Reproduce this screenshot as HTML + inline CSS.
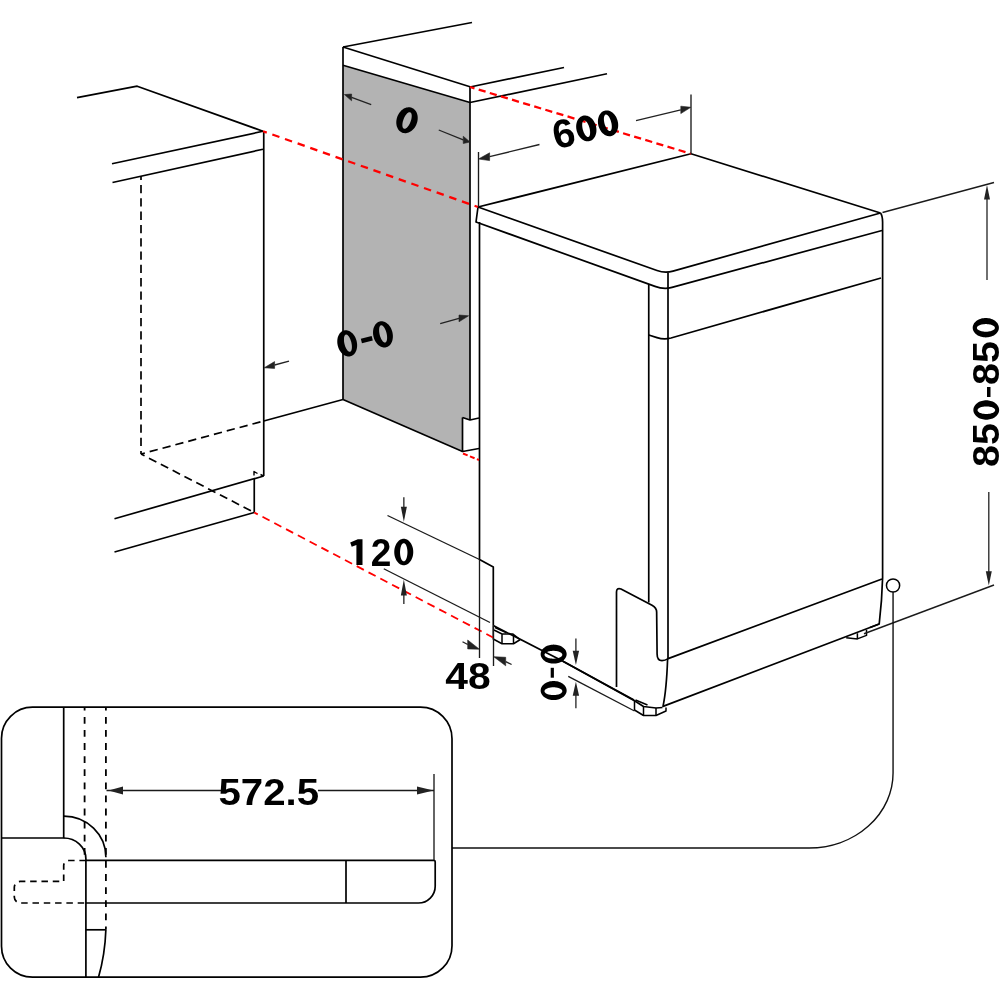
<!DOCTYPE html>
<html><head><meta charset="utf-8"><style>
html,body{margin:0;padding:0;background:#fff;overflow:hidden;}
svg{display:block;will-change:transform;}
</style></head><body>
<svg width="1000" height="1000" viewBox="0 0 1000 1000" stroke-linecap="butt" stroke-linejoin="round">
<path d="M77,97.6 L137.2,86.2 L263,131.25" stroke="#000" stroke-width="1.7" fill="none" />
<path d="M112,163.75 L263,131.25" stroke="#000" stroke-width="1.7" fill="none" />
<path d="M112.5,182.5 L263,149.25" stroke="#000" stroke-width="1.7" fill="none" />
<path d="M263.75,131 V476" stroke="#000" stroke-width="1.7" fill="none" />
<path d="M263.75,421 L343,399.5" stroke="#000" stroke-width="1.7" fill="none" />
<path d="M263.75,476 L114.5,518.75" stroke="#000" stroke-width="1.7" fill="none" />
<path d="M254.25,478.8 V512.5" stroke="#000" stroke-width="1.7" fill="none" />
<path d="M254.25,512.5 L114.5,552" stroke="#000" stroke-width="1.7" fill="none" />
<path d="M254,475.5 V471.5 L257.5,473.5 M260.5,474.5 L263.5,476" stroke="#000" stroke-width="1.4" fill="none" />
<path d="M141,176 V454" stroke="#000" stroke-width="1.7" fill="none" stroke-dasharray="8.3 5" stroke-dashoffset="4.3"/>
<path d="M141,454 L263.75,421" stroke="#000" stroke-width="1.7" fill="none" stroke-dasharray="8.3 5" stroke-dashoffset="4.3"/>
<path d="M141,454 L254.25,512.5" stroke="#000" stroke-width="1.7" fill="none" stroke-dasharray="8.3 5" stroke-dashoffset="4.3"/>
<path d="M343,65.2 L470,102.5 L470,420 L462.5,417.5 L462.5,451.5 L343,399.5 Z" fill="#b3b3b3"/>
<path d="M343,47 L472,22.5" stroke="#000" stroke-width="1.7" fill="none" />
<path d="M343,47 V399.5" stroke="#000" stroke-width="1.7" fill="none" />
<path d="M343,47 L470,86.75" stroke="#000" stroke-width="1.7" fill="none" />
<path d="M343,65.2 L470,102.5" stroke="#000" stroke-width="1.7" fill="none" />
<path d="M470,86.75 V420" stroke="#000" stroke-width="1.7" fill="none" />
<path d="M470,87 L564,67.5" stroke="#000" stroke-width="1.7" fill="none" />
<path d="M470,102.5 L607,73.75" stroke="#000" stroke-width="1.7" fill="none" />
<path d="M462.5,417.5 L470,420 L479,418" stroke="#000" stroke-width="1.7" fill="none" />
<path d="M462.5,417.5 V451.5 L479,448.5" stroke="#000" stroke-width="1.7" fill="none" />
<path d="M343,399.5 L462.5,451.5" stroke="#000" stroke-width="1.7" fill="none" />
<path d="M478,207 L691,153.75 L880.5,213" stroke="#000" stroke-width="1.7" fill="none" />
<path d="M478,207 L657,270.5 Q665.1,273.6 673,271.1 L880.5,213" stroke="#000" stroke-width="1.7" fill="none" />
<path d="M478,207 L476,222 L655,286.4 Q663.9,289.8 672,287.4 L882,230.5" stroke="#000" stroke-width="1.7" fill="none" />
<path d="M880.5,213 Q882.6,216 882.6,222 V578 Q882,600 879.2,624 L870,627.5" stroke="#000" stroke-width="1.7" fill="none" />
<path d="M479.5,222 V559.5 L493.3,567 V625.5" stroke="#000" stroke-width="1.7" fill="none" />
<path d="M648.75,284 V602.5" stroke="#000" stroke-width="1.7" fill="none" />
<path d="M668,272.5 V659" stroke="#000" stroke-width="1.7" fill="none" />
<path d="M648.75,335 L657,337.6 Q664,339.8 671,338.0 L881,278" stroke="#000" stroke-width="1.7" fill="none" />
<path d="M616.5,687 V592 Q616.5,587.5 621,589 L652,605.2 Q656.65,607.8 656.65,612 L657.1,654 Q657.1,660.6 662,660.6 Q665,660.6 668.1,658.6 L882,579" stroke="#000" stroke-width="1.7" fill="none" />
<path d="M667.6,659 Q666.5,690 663,706.4 L879.2,624" stroke="#000" stroke-width="1.7" fill="none" />
<path d="M562.5,661 L634,700" stroke="#000" stroke-width="1.7" fill="none" />
<path d="M562.5,661 L634.5,700.75 L643.5,706.5 L656,708 L662.5,707.5" stroke="#000" stroke-width="1.7" fill="none" />
<path d="M634.5,700.75 V710 L643.5,715.5 H656 L666,711 V707.5" stroke="#000" stroke-width="1.5" fill="none" />
<path d="M643.5,706.5 V715.5 M656,708 V715.5 M635.5,700 L647.5,705" stroke="#000" stroke-width="1.5" fill="none" />
<path d="M493.25,625.5 V639 L502,643.75 H513.5 L520,639.75" stroke="#000" stroke-width="1.5" fill="none" />
<path d="M494,630 L502,634 H513 L520,639.5 M502,634 V643.75 M513.5,634.5 V643.75 M495,627.5 L506,632.5" stroke="#000" stroke-width="1.5" fill="none" />
<path d="M493.25,625.5 L562.5,661" stroke="#000" stroke-width="1.7" fill="none" />
<path d="M846.2,637.8 L857.4,638.9 L866.5,635.4 V629.8 M857.4,633.3 V638.9" stroke="#000" stroke-width="1.5" fill="none" />
<path d="M263,131.25 L478,207" stroke="#ff0000" stroke-width="2.3" fill="none" stroke-dasharray="7.5 5.9" stroke-dashoffset="3.5"/>
<path d="M470,87 L691,153.75" stroke="#ff0000" stroke-width="2.3" fill="none" stroke-dasharray="7.2 4.4" stroke-dashoffset="2.5"/>
<path d="M254.25,512.5 L493,637.5" stroke="#ff0000" stroke-width="1.8" fill="none" stroke-dasharray="8 5.3" stroke-dashoffset="4"/>
<path d="M463,453.5 L479,460" stroke="#ff0000" stroke-width="2.0" fill="none" stroke-dasharray="5 2.5"/>
<path d="M478.5,152 V207" stroke="#1a1a1a" stroke-width="1.35" fill="none" />
<path d="M691,94.5 V153.75" stroke="#1a1a1a" stroke-width="1.35" fill="none" />
<path d="M371.20,104.60 L351.60,97.40" stroke="#222" stroke-width="1.3" fill="none"/>
<path d="M344.40,94.60 L351.60,94.00 L351.60,100.80 Z" fill="#222" stroke="#222" stroke-width="0.6" stroke-linejoin="miter"/>
<path d="M438.75,130.00 L463.25,139.88" stroke="#222" stroke-width="1.3" fill="none"/>
<path d="M470.00,142.00 L463.25,136.25 L463.25,143.50 Z" fill="#222" stroke="#222" stroke-width="0.6" stroke-linejoin="miter"/>
<path d="M539.50,144.50 L489.60,156.70" stroke="#222" stroke-width="1.3" fill="none"/>
<path d="M478.50,159.00 L489.60,152.80 L489.60,160.60 Z" fill="#222" stroke="#222" stroke-width="0.6" stroke-linejoin="miter"/>
<path d="M636.00,120.60 L680.80,109.90" stroke="#222" stroke-width="1.3" fill="none"/>
<path d="M690.90,107.25 L680.80,106.20 L680.80,113.60 Z" fill="#222" stroke="#222" stroke-width="0.6" stroke-linejoin="miter"/>
<path d="M289.00,361.20 L274.60,365.00" stroke="#222" stroke-width="1.3" fill="none"/>
<path d="M264.20,367.80 L274.60,361.60 L274.60,368.40 Z" fill="#222" stroke="#222" stroke-width="0.6" stroke-linejoin="miter"/>
<path d="M440.20,323.60 L459.00,318.40" stroke="#222" stroke-width="1.3" fill="none"/>
<path d="M468.60,315.80 L459.00,315.00 L459.00,321.80 Z" fill="#222" stroke="#222" stroke-width="0.6" stroke-linejoin="miter"/>
<path d="M387.5,515.5 L479.5,559.5" stroke="#1a1a1a" stroke-width="1.35" fill="none" />
<path d="M383.75,568.75 L490,622.5" stroke="#1a1a1a" stroke-width="1.35" fill="none" />
<path d="M403.85,497.20 L403.85,508.80" stroke="#222" stroke-width="1.3" fill="none"/>
<path d="M403.85,521.80 L400.85,506.80 L406.85,506.80 Z" fill="#222"/>
<path d="M403.85,604.00 L403.85,593.40" stroke="#222" stroke-width="1.3" fill="none"/>
<path d="M403.85,579.40 L406.85,595.40 L400.85,595.40 Z" fill="#222"/>
<path d="M479.5,560 V658" stroke="#1a1a1a" stroke-width="1.35" fill="none" />
<path d="M493.5,625 V666" stroke="#1a1a1a" stroke-width="1.35" fill="none" />
<path d="M462.50,641.70 L467.70,644.45" stroke="#222" stroke-width="1.3" fill="none"/>
<path d="M479.40,649.20 L467.70,640.00 L467.70,648.90 Z" fill="#222" stroke="#222" stroke-width="0.6" stroke-linejoin="miter"/>
<path d="M511.60,664.50 L505.70,661.55" stroke="#222" stroke-width="1.3" fill="none"/>
<path d="M493.70,656.70 L505.70,657.30 L505.70,665.80 Z" fill="#222" stroke="#222" stroke-width="0.6" stroke-linejoin="miter"/>
<path d="M568.25,676.35 L634.5,711" stroke="#1a1a1a" stroke-width="1.35" fill="none" />
<path d="M575.90,638.50 L575.90,652.70" stroke="#222" stroke-width="1.3" fill="none"/>
<path d="M575.90,665.10 L572.70,650.70 L579.10,650.70 Z" fill="#222"/>
<path d="M575.90,708.30 L575.90,693.75" stroke="#222" stroke-width="1.3" fill="none"/>
<path d="M575.90,681.75 L579.10,695.75 L572.70,695.75 Z" fill="#222"/>
<path d="M882.5,212.5 L994,182.5" stroke="#1a1a1a" stroke-width="1.35" fill="none" />
<path d="M864,633.75 L994,585" stroke="#1a1a1a" stroke-width="1.35" fill="none" />
<path d="M987.00,280.00 L987.00,197.40" stroke="#222" stroke-width="1.3" fill="none"/>
<path d="M987.00,185.00 L990.00,199.40 L984.00,199.40 Z" fill="#222"/>
<path d="M988.80,492.00 L988.80,573.20" stroke="#222" stroke-width="1.3" fill="none"/>
<path d="M988.80,585.60 L985.80,571.20 L991.80,571.20 Z" fill="#222"/>
<circle cx="893.06" cy="585.5" r="6.6" stroke="#000" stroke-width="1.5" fill="#fff"/>
<path d="M893.06,592.1 V773 A84,75 0 0 1 809,848 H452" stroke="#111" stroke-width="1.4" fill="none" />
<path d="M32.5,707.2 H420.5 A31.5,31.5 0 0 1 452,738.7 V945.7 A31.5,31.5 0 0 1 420.5,977.2 H32.5 A31,31 0 0 1 1.5,946.2 V738.2 A31,31 0 0 1 32.5,707.2 Z" stroke="#000" stroke-width="1.7" fill="none" />
<path d="M63.7,707.2 V838 H1.5" stroke="#000" stroke-width="1.7" fill="none" />
<path d="M63.7,838 A22.2,21 0 0 1 85.9,859 V977.2" stroke="#000" stroke-width="1.7" fill="none" />
<path d="M63.7,816.2 A42.2,41 0 0 1 105.9,857.2" stroke="#000" stroke-width="1.7" fill="none" />
<path d="M84.6,707.2 V859" stroke="#000" stroke-width="1.8" fill="none" stroke-dasharray="6.8 6.3" stroke-dashoffset="3.4"/>
<path d="M105.9,707.2 V929.3" stroke="#000" stroke-width="1.8" fill="none" stroke-dasharray="6.8 6.3" stroke-dashoffset="3.4"/>
<path d="M85.9,860.3 H433.7 Q435.2,860.3 435.2,861.8 V886.2 A16.8,16.8 0 0 1 418.4,903 H85.9" stroke="#000" stroke-width="1.7" fill="none" />
<path d="M346,860.3 V903" stroke="#000" stroke-width="1.7" fill="none" />
<path d="M85.9,860.5 H68.7 A5,5 0 0 0 63.7,865.5 V881.4 H20.3 A6,6 0 0 0 14.3,887.4 V897 A6,6 0 0 0 20.3,903 H85.9" stroke="#000" stroke-width="1.7" fill="none" stroke-dasharray="6.5 4.8"/>
<path d="M85.9,929.8 H105.9" stroke="#000" stroke-width="1.7" fill="none" />
<path d="M105.9,929.3 Q105,955 98.5,977.2" stroke="#000" stroke-width="1.7" fill="none" />
<path d="M434,774 V860" stroke="#1a1a1a" stroke-width="1.35" fill="none" />
<path d="M106.5,790.5 H222 M318,790.5 H434" stroke="#1a1a1a" stroke-width="1.35" fill="none" />
<path d="M108.50,790.50 L123.00,786.50 L123.00,794.50 Z" fill="#222"/>
<path d="M433.50,790.50 L417.00,794.50 L417.00,786.50 Z" fill="#222"/>
<path fill-rule="evenodd" fill="#000" d="M416.63,123.86 L416.18,124.93 L415.66,125.96 L415.08,126.95 L414.43,127.89 L413.73,128.77 L412.98,129.58 L412.18,130.33 L411.34,130.99 L410.47,131.58 L409.57,132.08 L408.65,132.48 L407.72,132.80 L406.79,133.01 L405.86,133.13 L404.93,133.16 L404.02,133.08 L403.13,132.90 L402.28,132.63 L401.46,132.27 L400.68,131.81 L399.95,131.26 L399.27,130.63 L398.65,129.92 L398.10,129.14 L397.61,128.29 L397.19,127.37 L396.85,126.41 L396.59,125.39 L396.40,124.34 L396.30,123.25 L396.28,122.14 L396.34,121.02 L396.48,119.88 L396.70,118.76 L397.00,117.64 L397.37,116.54 L397.82,115.47 L398.34,114.44 L398.92,113.45 L399.57,112.51 L400.27,111.63 L401.02,110.82 L401.82,110.07 L402.66,109.41 L403.53,108.82 L404.43,108.32 L405.35,107.92 L406.28,107.60 L407.21,107.39 L408.14,107.27 L409.07,107.24 L409.98,107.32 L410.87,107.50 L411.72,107.77 L412.54,108.13 L413.32,108.59 L414.05,109.14 L414.73,109.77 L415.35,110.48 L415.90,111.26 L416.39,112.11 L416.81,113.03 L417.15,113.99 L417.41,115.01 L417.60,116.06 L417.70,117.15 L417.72,118.26 L417.66,119.38 L417.52,120.52 L417.30,121.64 L417.00,122.76 Z M410.51,121.81 L410.22,122.53 L409.91,123.22 L409.58,123.90 L409.23,124.55 L408.86,125.17 L408.48,125.75 L408.09,126.29 L407.69,126.79 L407.29,127.25 L406.88,127.65 L406.47,127.99 L406.07,128.28 L405.68,128.51 L405.30,128.68 L404.93,128.79 L404.57,128.83 L404.24,128.81 L403.93,128.73 L403.64,128.58 L403.37,128.37 L403.14,128.11 L402.93,127.78 L402.76,127.40 L402.61,126.97 L402.51,126.49 L402.43,125.96 L402.39,125.39 L402.39,124.78 L402.42,124.14 L402.49,123.48 L402.59,122.79 L402.73,122.08 L402.90,121.36 L403.10,120.63 L403.33,119.91 L403.59,119.19 L403.88,118.47 L404.19,117.78 L404.52,117.10 L404.87,116.45 L405.24,115.83 L405.62,115.25 L406.01,114.71 L406.41,114.21 L406.81,113.75 L407.22,113.35 L407.63,113.01 L408.03,112.72 L408.42,112.49 L408.80,112.32 L409.17,112.21 L409.53,112.17 L409.86,112.19 L410.17,112.27 L410.46,112.42 L410.73,112.63 L410.96,112.89 L411.17,113.22 L411.34,113.60 L411.49,114.03 L411.59,114.51 L411.67,115.04 L411.71,115.61 L411.71,116.22 L411.68,116.86 L411.61,117.52 L411.51,118.21 L411.37,118.92 L411.20,119.64 L411.00,120.37 L410.77,121.09 Z"/>
<path fill-rule="evenodd" fill="#000" d="M356.62,341.10 L356.86,342.24 L357.03,343.38 L357.12,344.53 L357.13,345.66 L357.07,346.78 L356.94,347.87 L356.73,348.93 L356.44,349.95 L356.09,350.91 L355.67,351.82 L355.19,352.67 L354.64,353.44 L354.04,354.14 L353.38,354.76 L352.68,355.29 L351.94,355.73 L351.16,356.07 L350.35,356.32 L349.52,356.47 L348.67,356.52 L347.80,356.48 L346.94,356.33 L346.07,356.08 L345.22,355.74 L344.37,355.30 L343.56,354.78 L342.76,354.16 L342.01,353.47 L341.29,352.69 L340.61,351.85 L339.99,350.94 L339.42,349.98 L338.91,348.96 L338.47,347.91 L338.09,346.81 L337.78,345.70 L337.54,344.56 L337.37,343.42 L337.28,342.27 L337.27,341.14 L337.33,340.02 L337.46,338.93 L337.67,337.87 L337.96,336.85 L338.31,335.89 L338.73,334.98 L339.21,334.13 L339.76,333.36 L340.36,332.66 L341.02,332.04 L341.72,331.51 L342.46,331.07 L343.24,330.73 L344.05,330.48 L344.88,330.33 L345.73,330.28 L346.60,330.32 L347.46,330.47 L348.33,330.72 L349.18,331.06 L350.03,331.50 L350.84,332.02 L351.64,332.64 L352.39,333.33 L353.11,334.11 L353.79,334.95 L354.41,335.86 L354.98,336.82 L355.49,337.84 L355.93,338.89 L356.31,339.99 Z M351.30,342.37 L351.47,343.12 L351.61,343.88 L351.73,344.62 L351.81,345.36 L351.87,346.08 L351.89,346.78 L351.89,347.45 L351.85,348.09 L351.79,348.69 L351.69,349.25 L351.57,349.77 L351.42,350.23 L351.24,350.64 L351.03,351.00 L350.80,351.29 L350.55,351.52 L350.28,351.69 L350.00,351.80 L349.69,351.84 L349.37,351.81 L349.04,351.72 L348.71,351.56 L348.36,351.34 L348.01,351.06 L347.67,350.72 L347.32,350.32 L346.98,349.87 L346.64,349.36 L346.32,348.81 L346.00,348.22 L345.70,347.59 L345.42,346.92 L345.16,346.23 L344.92,345.51 L344.70,344.78 L344.50,344.03 L344.33,343.28 L344.19,342.52 L344.07,341.78 L343.99,341.04 L343.93,340.32 L343.91,339.62 L343.91,338.95 L343.95,338.31 L344.01,337.71 L344.11,337.15 L344.23,336.63 L344.38,336.17 L344.56,335.76 L344.77,335.40 L345.00,335.11 L345.25,334.88 L345.52,334.71 L345.80,334.60 L346.11,334.56 L346.43,334.59 L346.76,334.68 L347.09,334.84 L347.44,335.06 L347.79,335.34 L348.13,335.68 L348.48,336.08 L348.82,336.53 L349.16,337.04 L349.48,337.59 L349.80,338.18 L350.10,338.81 L350.38,339.48 L350.64,340.17 L350.88,340.89 L351.10,341.62 Z"/>
<path fill-rule="evenodd" fill="#000" d="M392.37,332.10 L392.61,333.24 L392.78,334.38 L392.87,335.53 L392.88,336.66 L392.82,337.78 L392.69,338.87 L392.48,339.93 L392.19,340.95 L391.84,341.91 L391.42,342.82 L390.94,343.67 L390.39,344.44 L389.79,345.14 L389.13,345.76 L388.43,346.29 L387.69,346.73 L386.91,347.07 L386.10,347.32 L385.27,347.47 L384.42,347.52 L383.55,347.48 L382.69,347.33 L381.82,347.08 L380.97,346.74 L380.12,346.30 L379.31,345.78 L378.51,345.16 L377.76,344.47 L377.04,343.69 L376.36,342.85 L375.74,341.94 L375.17,340.98 L374.66,339.96 L374.22,338.91 L373.84,337.81 L373.53,336.70 L373.29,335.56 L373.12,334.42 L373.03,333.27 L373.02,332.14 L373.08,331.02 L373.21,329.93 L373.42,328.87 L373.71,327.85 L374.06,326.89 L374.48,325.98 L374.96,325.13 L375.51,324.36 L376.11,323.66 L376.77,323.04 L377.47,322.51 L378.21,322.07 L378.99,321.73 L379.80,321.48 L380.63,321.33 L381.48,321.28 L382.35,321.32 L383.21,321.47 L384.08,321.72 L384.93,322.06 L385.78,322.50 L386.59,323.02 L387.39,323.64 L388.14,324.33 L388.86,325.11 L389.54,325.95 L390.16,326.86 L390.73,327.82 L391.24,328.84 L391.68,329.89 L392.06,330.99 Z M386.50,333.07 L386.67,333.82 L386.81,334.58 L386.93,335.32 L387.01,336.06 L387.07,336.78 L387.09,337.48 L387.09,338.15 L387.05,338.79 L386.99,339.39 L386.89,339.95 L386.77,340.47 L386.62,340.93 L386.44,341.34 L386.23,341.70 L386.00,341.99 L385.75,342.22 L385.48,342.39 L385.20,342.50 L384.89,342.54 L384.57,342.51 L384.24,342.42 L383.91,342.26 L383.56,342.04 L383.21,341.76 L382.87,341.42 L382.52,341.02 L382.18,340.57 L381.84,340.06 L381.52,339.51 L381.20,338.92 L380.90,338.29 L380.62,337.62 L380.36,336.93 L380.12,336.21 L379.90,335.48 L379.70,334.73 L379.53,333.98 L379.39,333.22 L379.27,332.48 L379.19,331.74 L379.13,331.02 L379.11,330.32 L379.11,329.65 L379.15,329.01 L379.21,328.41 L379.31,327.85 L379.43,327.33 L379.58,326.87 L379.76,326.46 L379.97,326.10 L380.20,325.81 L380.45,325.58 L380.72,325.41 L381.00,325.30 L381.31,325.26 L381.63,325.29 L381.96,325.38 L382.29,325.54 L382.64,325.76 L382.99,326.04 L383.33,326.38 L383.68,326.78 L384.02,327.23 L384.36,327.74 L384.68,328.29 L385.00,328.88 L385.30,329.51 L385.58,330.18 L385.84,330.87 L386.08,331.59 L386.30,332.32 Z"/>
<rect x="-5.6" y="-2.4" width="11.2" height="4.8" fill="#000" transform="translate(366.8,339.6) rotate(-14)"/>
<path fill-rule="evenodd" fill="#000" d="M595.86,125.84 L596.12,126.95 L596.31,128.07 L596.41,129.20 L596.45,130.32 L596.40,131.43 L596.28,132.51 L596.08,133.56 L595.80,134.57 L595.46,135.54 L595.04,136.45 L594.56,137.30 L594.02,138.08 L593.41,138.79 L592.76,139.41 L592.05,139.96 L591.30,140.42 L590.51,140.78 L589.69,141.05 L588.84,141.23 L587.98,141.31 L587.10,141.29 L586.22,141.17 L585.33,140.95 L584.45,140.64 L583.59,140.23 L582.75,139.74 L581.94,139.16 L581.15,138.50 L580.41,137.76 L579.71,136.95 L579.07,136.07 L578.47,135.14 L577.94,134.15 L577.47,133.12 L577.07,132.06 L576.74,130.96 L576.48,129.85 L576.29,128.73 L576.19,127.60 L576.15,126.48 L576.20,125.37 L576.32,124.29 L576.52,123.24 L576.80,122.23 L577.14,121.26 L577.56,120.35 L578.04,119.50 L578.58,118.72 L579.19,118.01 L579.84,117.39 L580.55,116.84 L581.30,116.38 L582.09,116.02 L582.91,115.75 L583.76,115.57 L584.62,115.49 L585.50,115.51 L586.38,115.63 L587.27,115.85 L588.15,116.16 L589.01,116.57 L589.85,117.06 L590.66,117.64 L591.45,118.30 L592.19,119.04 L592.89,119.85 L593.53,120.73 L594.13,121.66 L594.66,122.65 L595.13,123.68 L595.53,124.74 Z M589.43,127.87 L589.61,128.59 L589.77,129.31 L589.89,130.03 L589.99,130.73 L590.06,131.42 L590.09,132.09 L590.10,132.74 L590.08,133.35 L590.03,133.93 L589.95,134.47 L589.84,134.97 L589.70,135.42 L589.53,135.82 L589.34,136.16 L589.12,136.45 L588.89,136.68 L588.63,136.85 L588.35,136.96 L588.06,137.01 L587.75,136.99 L587.42,136.91 L587.09,136.77 L586.76,136.56 L586.41,136.30 L586.07,135.98 L585.72,135.61 L585.38,135.18 L585.05,134.70 L584.72,134.18 L584.41,133.62 L584.10,133.02 L583.82,132.39 L583.55,131.72 L583.30,131.04 L583.07,130.34 L582.87,129.63 L582.69,128.91 L582.53,128.19 L582.41,127.47 L582.31,126.77 L582.24,126.08 L582.21,125.41 L582.20,124.76 L582.22,124.15 L582.27,123.57 L582.35,123.03 L582.46,122.53 L582.60,122.08 L582.77,121.68 L582.96,121.34 L583.17,121.05 L583.41,120.82 L583.67,120.65 L583.95,120.54 L584.24,120.49 L584.55,120.51 L584.88,120.59 L585.21,120.73 L585.54,120.94 L585.89,121.20 L586.23,121.52 L586.58,121.89 L586.92,122.32 L587.25,122.80 L587.58,123.32 L587.89,123.88 L588.20,124.48 L588.48,125.11 L588.75,125.78 L589.00,126.46 L589.23,127.16 Z"/>
<path fill-rule="evenodd" fill="#000" d="M617.61,120.79 L617.87,121.90 L618.06,123.02 L618.16,124.15 L618.20,125.27 L618.15,126.38 L618.03,127.46 L617.83,128.51 L617.55,129.52 L617.21,130.49 L616.79,131.40 L616.31,132.25 L615.77,133.03 L615.16,133.74 L614.51,134.36 L613.80,134.91 L613.05,135.37 L612.26,135.73 L611.44,136.00 L610.59,136.18 L609.73,136.26 L608.85,136.24 L607.97,136.12 L607.08,135.90 L606.20,135.59 L605.34,135.18 L604.50,134.69 L603.69,134.11 L602.90,133.45 L602.16,132.71 L601.46,131.90 L600.82,131.02 L600.22,130.09 L599.69,129.10 L599.22,128.07 L598.82,127.01 L598.49,125.91 L598.23,124.80 L598.04,123.68 L597.94,122.55 L597.90,121.43 L597.95,120.32 L598.07,119.24 L598.27,118.19 L598.55,117.18 L598.89,116.21 L599.31,115.30 L599.79,114.45 L600.33,113.67 L600.94,112.96 L601.59,112.34 L602.30,111.79 L603.05,111.33 L603.84,110.97 L604.66,110.70 L605.51,110.52 L606.37,110.44 L607.25,110.46 L608.13,110.58 L609.02,110.80 L609.90,111.11 L610.76,111.52 L611.60,112.01 L612.41,112.59 L613.20,113.25 L613.94,113.99 L614.64,114.80 L615.28,115.68 L615.88,116.61 L616.41,117.60 L616.88,118.63 L617.28,119.69 Z M611.13,121.92 L611.31,122.64 L611.47,123.36 L611.59,124.08 L611.69,124.78 L611.76,125.47 L611.79,126.14 L611.80,126.79 L611.78,127.40 L611.73,127.98 L611.65,128.52 L611.54,129.02 L611.40,129.47 L611.23,129.87 L611.04,130.21 L610.83,130.50 L610.59,130.73 L610.33,130.90 L610.05,131.01 L609.76,131.06 L609.45,131.04 L609.12,130.96 L608.79,130.82 L608.46,130.61 L608.11,130.35 L607.77,130.03 L607.42,129.66 L607.08,129.23 L606.75,128.75 L606.42,128.23 L606.11,127.67 L605.80,127.07 L605.52,126.44 L605.25,125.77 L605.00,125.09 L604.77,124.39 L604.57,123.68 L604.39,122.96 L604.23,122.24 L604.11,121.52 L604.01,120.82 L603.94,120.13 L603.91,119.46 L603.90,118.81 L603.92,118.20 L603.97,117.62 L604.05,117.08 L604.16,116.58 L604.30,116.13 L604.47,115.73 L604.66,115.39 L604.88,115.10 L605.11,114.87 L605.37,114.70 L605.65,114.59 L605.94,114.54 L606.25,114.56 L606.58,114.64 L606.91,114.78 L607.24,114.99 L607.59,115.25 L607.93,115.57 L608.28,115.94 L608.62,116.37 L608.95,116.85 L609.28,117.37 L609.59,117.93 L609.90,118.53 L610.18,119.16 L610.45,119.83 L610.70,120.51 L610.93,121.21 Z"/>
<path fill-rule="evenodd" fill="#000" d="M413.25,552.00 L413.21,553.15 L413.11,554.29 L412.93,555.42 L412.68,556.51 L412.36,557.58 L411.98,558.60 L411.53,559.57 L411.03,560.48 L410.47,561.33 L409.86,562.11 L409.20,562.81 L408.50,563.43 L407.76,563.96 L407.00,564.40 L406.21,564.75 L405.40,565.00 L404.58,565.15 L403.75,565.20 L402.92,565.15 L402.10,565.00 L401.29,564.75 L400.50,564.40 L399.74,563.96 L399.00,563.43 L398.30,562.81 L397.64,562.11 L397.03,561.33 L396.47,560.48 L395.97,559.57 L395.52,558.60 L395.14,557.58 L394.82,556.51 L394.57,555.42 L394.39,554.29 L394.29,553.15 L394.25,552.00 L394.29,550.85 L394.39,549.71 L394.57,548.58 L394.82,547.49 L395.14,546.42 L395.52,545.40 L395.97,544.43 L396.47,543.52 L397.03,542.67 L397.64,541.89 L398.30,541.19 L399.00,540.57 L399.74,540.04 L400.50,539.60 L401.29,539.25 L402.10,539.00 L402.92,538.85 L403.75,538.80 L404.58,538.85 L405.40,539.00 L406.21,539.25 L407.00,539.60 L407.76,540.04 L408.50,540.57 L409.20,541.19 L409.86,541.89 L410.47,542.67 L411.03,543.52 L411.53,544.43 L411.98,545.40 L412.36,546.42 L412.68,547.49 L412.93,548.58 L413.11,549.71 L413.21,550.85 Z M407.45,552.25 L407.44,553.04 L407.39,553.83 L407.32,554.61 L407.23,555.36 L407.10,556.10 L406.95,556.80 L406.78,557.47 L406.58,558.10 L406.37,558.68 L406.13,559.22 L405.87,559.70 L405.60,560.13 L405.31,560.50 L405.02,560.80 L404.71,561.04 L404.39,561.21 L404.07,561.32 L403.75,561.35 L403.43,561.32 L403.11,561.21 L402.79,561.04 L402.48,560.80 L402.19,560.50 L401.90,560.13 L401.63,559.70 L401.37,559.22 L401.13,558.68 L400.92,558.10 L400.72,557.47 L400.55,556.80 L400.40,556.10 L400.27,555.36 L400.18,554.61 L400.11,553.83 L400.06,553.04 L400.05,552.25 L400.06,551.46 L400.11,550.67 L400.18,549.89 L400.27,549.14 L400.40,548.40 L400.55,547.70 L400.72,547.03 L400.92,546.40 L401.13,545.82 L401.37,545.28 L401.63,544.80 L401.90,544.37 L402.19,544.00 L402.48,543.70 L402.79,543.46 L403.11,543.29 L403.43,543.18 L403.75,543.15 L404.07,543.18 L404.39,543.29 L404.71,543.46 L405.02,543.70 L405.31,544.00 L405.60,544.37 L405.87,544.80 L406.13,545.28 L406.37,545.82 L406.58,546.40 L406.78,547.03 L406.95,547.70 L407.10,548.40 L407.23,549.14 L407.32,549.89 L407.39,550.67 L407.44,551.46 Z"/>
<path fill-rule="evenodd" fill="#000" d="M985.80,337.40 L984.66,337.36 L983.53,337.25 L982.41,337.07 L981.32,336.82 L980.26,336.49 L979.25,336.10 L978.29,335.65 L977.38,335.13 L976.54,334.56 L975.76,333.94 L975.07,333.26 L974.46,332.55 L973.93,331.80 L973.49,331.02 L973.15,330.21 L972.90,329.38 L972.75,328.55 L972.70,327.70 L972.75,326.85 L972.90,326.02 L973.15,325.19 L973.49,324.38 L973.93,323.60 L974.46,322.85 L975.07,322.14 L975.76,321.46 L976.54,320.84 L977.38,320.27 L978.29,319.75 L979.25,319.30 L980.26,318.91 L981.32,318.58 L982.41,318.33 L983.53,318.15 L984.66,318.04 L985.80,318.00 L986.94,318.04 L988.07,318.15 L989.19,318.33 L990.28,318.58 L991.34,318.91 L992.35,319.30 L993.31,319.75 L994.22,320.27 L995.06,320.84 L995.84,321.46 L996.53,322.14 L997.14,322.85 L997.67,323.60 L998.11,324.38 L998.45,325.19 L998.70,326.02 L998.85,326.85 L998.90,327.70 L998.85,328.55 L998.70,329.38 L998.45,330.21 L998.11,331.02 L997.67,331.80 L997.14,332.55 L996.53,333.26 L995.84,333.94 L995.06,334.56 L994.22,335.13 L993.31,335.65 L992.35,336.10 L991.34,336.49 L990.28,336.82 L989.19,337.07 L988.07,337.25 L986.94,337.36 Z M985.90,331.70 L985.12,331.69 L984.34,331.64 L983.57,331.57 L982.82,331.47 L982.10,331.34 L981.40,331.19 L980.74,331.01 L980.11,330.81 L979.54,330.59 L979.01,330.34 L978.53,330.08 L978.11,329.80 L977.74,329.51 L977.44,329.20 L977.21,328.88 L977.04,328.56 L976.93,328.23 L976.90,327.90 L976.93,327.57 L977.04,327.24 L977.21,326.92 L977.44,326.60 L977.74,326.29 L978.11,326.00 L978.53,325.72 L979.01,325.46 L979.54,325.21 L980.11,324.99 L980.74,324.79 L981.40,324.61 L982.10,324.46 L982.82,324.33 L983.57,324.23 L984.34,324.16 L985.12,324.11 L985.90,324.10 L986.68,324.11 L987.46,324.16 L988.23,324.23 L988.98,324.33 L989.70,324.46 L990.40,324.61 L991.06,324.79 L991.69,324.99 L992.26,325.21 L992.79,325.46 L993.27,325.72 L993.69,326.00 L994.06,326.29 L994.36,326.60 L994.59,326.92 L994.76,327.24 L994.87,327.57 L994.90,327.90 L994.87,328.23 L994.76,328.56 L994.59,328.88 L994.36,329.20 L994.06,329.51 L993.69,329.80 L993.27,330.08 L992.79,330.34 L992.26,330.59 L991.69,330.81 L991.06,331.01 L990.40,331.19 L989.70,331.34 L988.98,331.47 L988.23,331.57 L987.46,331.64 L986.68,331.69 Z"/>
<path fill-rule="evenodd" fill="#000" d="M986.25,419.70 L985.13,419.66 L984.01,419.55 L982.91,419.37 L981.84,419.12 L980.80,418.79 L979.80,418.40 L978.85,417.95 L977.96,417.43 L977.13,416.86 L976.37,416.24 L975.68,415.56 L975.08,414.85 L974.56,414.10 L974.13,413.32 L973.79,412.51 L973.55,411.68 L973.40,410.85 L973.35,410.00 L973.40,409.15 L973.55,408.32 L973.79,407.49 L974.13,406.68 L974.56,405.90 L975.08,405.15 L975.68,404.44 L976.37,403.76 L977.13,403.14 L977.96,402.57 L978.85,402.05 L979.80,401.60 L980.80,401.21 L981.84,400.88 L982.91,400.63 L984.01,400.45 L985.13,400.34 L986.25,400.30 L987.37,400.34 L988.49,400.45 L989.59,400.63 L990.66,400.88 L991.70,401.21 L992.70,401.60 L993.65,402.05 L994.54,402.57 L995.37,403.14 L996.13,403.76 L996.82,404.44 L997.42,405.15 L997.94,405.90 L998.37,406.68 L998.71,407.49 L998.95,408.32 L999.10,409.15 L999.15,410.00 L999.10,410.85 L998.95,411.68 L998.71,412.51 L998.37,413.32 L997.94,414.10 L997.42,414.85 L996.82,415.56 L996.13,416.24 L995.37,416.86 L994.54,417.43 L993.65,417.95 L992.70,418.40 L991.70,418.79 L990.66,419.12 L989.59,419.37 L988.49,419.55 L987.37,419.66 Z M986.35,414.00 L985.58,413.99 L984.82,413.94 L984.07,413.87 L983.34,413.77 L982.63,413.64 L981.95,413.49 L981.30,413.31 L980.69,413.11 L980.13,412.89 L979.61,412.64 L979.14,412.38 L978.73,412.10 L978.37,411.81 L978.08,411.50 L977.85,411.18 L977.68,410.86 L977.58,410.53 L977.55,410.20 L977.58,409.87 L977.68,409.54 L977.85,409.22 L978.08,408.90 L978.37,408.59 L978.73,408.30 L979.14,408.02 L979.61,407.76 L980.13,407.51 L980.69,407.29 L981.30,407.09 L981.95,406.91 L982.63,406.76 L983.34,406.63 L984.07,406.53 L984.82,406.46 L985.58,406.41 L986.35,406.40 L987.12,406.41 L987.88,406.46 L988.63,406.53 L989.36,406.63 L990.07,406.76 L990.75,406.91 L991.40,407.09 L992.01,407.29 L992.57,407.51 L993.09,407.76 L993.56,408.02 L993.97,408.30 L994.33,408.59 L994.62,408.90 L994.85,409.22 L995.02,409.54 L995.12,409.87 L995.15,410.20 L995.12,410.53 L995.02,410.86 L994.85,411.18 L994.62,411.50 L994.33,411.81 L993.97,412.10 L993.56,412.38 L993.09,412.64 L992.57,412.89 L992.01,413.11 L991.40,413.31 L990.75,413.49 L990.07,413.64 L989.36,413.77 L988.63,413.87 L987.88,413.94 L987.12,413.99 Z"/>
<rect x="987" y="387" width="3.5" height="10" fill="#000"/>
<path fill-rule="evenodd" fill="#000" d="M553.65,663.60 L552.52,663.56 L551.39,663.46 L550.29,663.28 L549.20,663.03 L548.16,662.71 L547.15,662.33 L546.19,661.88 L545.29,661.38 L544.46,660.82 L543.69,660.21 L543.00,659.55 L542.39,658.85 L541.87,658.11 L541.43,657.35 L541.09,656.56 L540.85,655.75 L540.70,654.93 L540.65,654.10 L540.70,653.27 L540.85,652.45 L541.09,651.64 L541.43,650.85 L541.87,650.09 L542.39,649.35 L543.00,648.65 L543.69,647.99 L544.46,647.38 L545.29,646.82 L546.19,646.32 L547.15,645.87 L548.16,645.49 L549.20,645.17 L550.29,644.92 L551.39,644.74 L552.52,644.64 L553.65,644.60 L554.78,644.64 L555.91,644.74 L557.01,644.92 L558.10,645.17 L559.14,645.49 L560.15,645.87 L561.11,646.32 L562.01,646.82 L562.84,647.38 L563.61,647.99 L564.30,648.65 L564.91,649.35 L565.43,650.09 L565.87,650.85 L566.21,651.64 L566.45,652.45 L566.60,653.27 L566.65,654.10 L566.60,654.93 L566.45,655.75 L566.21,656.56 L565.87,657.35 L565.43,658.11 L564.91,658.85 L564.30,659.55 L563.61,660.21 L562.84,660.82 L562.01,661.38 L561.11,661.88 L560.15,662.33 L559.14,662.71 L558.10,663.03 L557.01,663.28 L555.91,663.46 L554.78,663.56 Z M553.40,658.65 L552.62,658.64 L551.85,658.59 L551.10,658.52 L550.36,658.41 L549.64,658.28 L548.95,658.13 L548.30,657.94 L547.68,657.74 L547.11,657.51 L546.58,657.26 L546.11,656.99 L545.69,656.70 L545.33,656.40 L545.04,656.08 L544.80,655.76 L544.64,655.43 L544.53,655.09 L544.50,654.75 L544.53,654.41 L544.64,654.07 L544.80,653.74 L545.04,653.42 L545.33,653.10 L545.69,652.80 L546.11,652.51 L546.58,652.24 L547.11,651.99 L547.68,651.76 L548.30,651.56 L548.95,651.37 L549.64,651.22 L550.36,651.09 L551.10,650.98 L551.85,650.91 L552.62,650.86 L553.40,650.85 L554.18,650.86 L554.95,650.91 L555.70,650.98 L556.44,651.09 L557.16,651.22 L557.85,651.37 L558.50,651.56 L559.12,651.76 L559.69,651.99 L560.22,652.24 L560.69,652.51 L561.11,652.80 L561.47,653.10 L561.76,653.42 L562.00,653.74 L562.16,654.07 L562.27,654.41 L562.30,654.75 L562.27,655.09 L562.16,655.43 L562.00,655.76 L561.76,656.08 L561.47,656.40 L561.11,656.70 L560.69,656.99 L560.22,657.26 L559.69,657.51 L559.12,657.74 L558.50,657.94 L557.85,658.13 L557.16,658.28 L556.44,658.41 L555.70,658.52 L554.95,658.59 L554.18,658.64 Z"/>
<path fill-rule="evenodd" fill="#000" d="M553.65,700.05 L552.52,700.01 L551.39,699.91 L550.29,699.73 L549.20,699.48 L548.16,699.16 L547.15,698.78 L546.19,698.33 L545.29,697.83 L544.46,697.27 L543.69,696.66 L543.00,696.00 L542.39,695.30 L541.87,694.56 L541.43,693.80 L541.09,693.01 L540.85,692.20 L540.70,691.38 L540.65,690.55 L540.70,689.72 L540.85,688.90 L541.09,688.09 L541.43,687.30 L541.87,686.54 L542.39,685.80 L543.00,685.10 L543.69,684.44 L544.46,683.83 L545.29,683.27 L546.19,682.77 L547.15,682.32 L548.16,681.94 L549.20,681.62 L550.29,681.37 L551.39,681.19 L552.52,681.09 L553.65,681.05 L554.78,681.09 L555.91,681.19 L557.01,681.37 L558.10,681.62 L559.14,681.94 L560.15,682.32 L561.11,682.77 L562.01,683.27 L562.84,683.83 L563.61,684.44 L564.30,685.10 L564.91,685.80 L565.43,686.54 L565.87,687.30 L566.21,688.09 L566.45,688.90 L566.60,689.72 L566.65,690.55 L566.60,691.38 L566.45,692.20 L566.21,693.01 L565.87,693.80 L565.43,694.56 L564.91,695.30 L564.30,696.00 L563.61,696.66 L562.84,697.27 L562.01,697.83 L561.11,698.33 L560.15,698.78 L559.14,699.16 L558.10,699.48 L557.01,699.73 L555.91,699.91 L554.78,700.01 Z M553.40,695.10 L552.62,695.09 L551.85,695.04 L551.10,694.97 L550.36,694.86 L549.64,694.73 L548.95,694.58 L548.30,694.39 L547.68,694.19 L547.11,693.96 L546.58,693.71 L546.11,693.44 L545.69,693.15 L545.33,692.85 L545.04,692.53 L544.80,692.21 L544.64,691.88 L544.53,691.54 L544.50,691.20 L544.53,690.86 L544.64,690.52 L544.80,690.19 L545.04,689.87 L545.33,689.55 L545.69,689.25 L546.11,688.96 L546.58,688.69 L547.11,688.44 L547.68,688.21 L548.30,688.01 L548.95,687.82 L549.64,687.67 L550.36,687.54 L551.10,687.43 L551.85,687.36 L552.62,687.31 L553.40,687.30 L554.18,687.31 L554.95,687.36 L555.70,687.43 L556.44,687.54 L557.16,687.67 L557.85,687.82 L558.50,688.01 L559.12,688.21 L559.69,688.44 L560.22,688.69 L560.69,688.96 L561.11,689.25 L561.47,689.55 L561.76,689.87 L562.00,690.19 L562.16,690.52 L562.27,690.86 L562.30,691.20 L562.27,691.54 L562.16,691.88 L562.00,692.21 L561.76,692.53 L561.47,692.85 L561.11,693.15 L560.69,693.44 L560.22,693.71 L559.69,693.96 L559.12,694.19 L558.50,694.39 L557.85,694.58 L557.16,694.73 L556.44,694.86 L555.70,694.97 L554.95,695.04 L554.18,695.09 Z"/>
<rect x="550.7" y="667.8" width="3.2" height="9.9" fill="#000"/>
<path d="M362.5,539.2 V565.1 H356.4 V545 L351.7,546.8 L350.2,542.4 L357.8,539.2 Z" fill="#000"/>
<text x="0" y="0" font-family="Liberation Sans, sans-serif" font-weight="bold" font-size="37" transform="translate(556.10,149.30) rotate(-13) skewX(0) scale(1.0684,1.0769)">6</text>
<text x="0" y="0" font-family="Liberation Sans, sans-serif" font-weight="bold" font-size="36.5" transform="translate(370.75,565.50) rotate(0) skewX(0) scale(1.0139,1.0385)">2</text>
<text x="0" y="0" font-family="Liberation Sans, sans-serif" font-weight="bold" font-size="36.5" transform="translate(445.25,688.50) rotate(0) skewX(0) scale(1.1184,1.0096)">48</text>
<text x="0" y="0" font-family="Liberation Sans, sans-serif" font-weight="bold" font-size="36.5" transform="translate(218.40,804.50) rotate(0) skewX(0) scale(1.1022,1.0192)">572.5</text>
<text x="0" y="0" font-family="Liberation Sans, sans-serif" font-weight="bold" font-size="36.5" transform="translate(998.60,467.00) rotate(-90) skewX(0) scale(1.0789,1.0154)">85</text>
<text x="0" y="0" font-family="Liberation Sans, sans-serif" font-weight="bold" font-size="36.5" transform="translate(998.60,384.90) rotate(-90) skewX(0) scale(1.0816,1.0154)">85</text>
</svg>
</body></html>
